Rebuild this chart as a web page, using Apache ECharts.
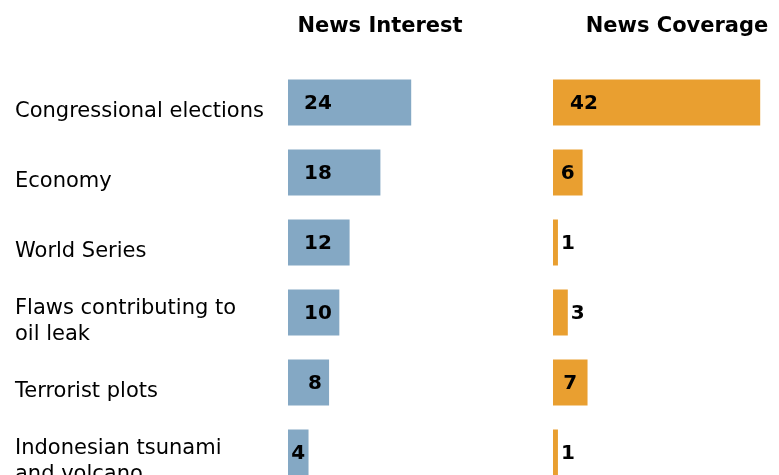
<!DOCTYPE html>
<html><head><meta charset="utf-8">
<script src="https://cdn.jsdelivr.net/npm/echarts@6/dist/echarts.min.js"></script>
<style>html,body{margin:0;padding:0;background:#fff}#c{width:779px;height:475px}</style>
</head><body><div id="c"></div>
<script>
const categories = ["Congressional elections", "Economy", "World Series", "Flaws contributing to\noil leak", "Terrorist plots", "Indonesian tsunami\nand volcano"];
const newsInterest = [24, 18, 12, 10, 8, 4];
const newsCoverage = [42, 6, 1, 3, 7, 1];
const panelTitles = ["News Interest", "News Coverage"];

const FONT = "DejaVu Sans";
const labelBase = {show: true, color: '#000', fontFamily: FONT, fontWeight: 'bold', fontSize: 20, offset: [0, 1]};

function leftLabel(v) {
  if (v >= 10) return Object.assign({}, labelBase, {position: 'insideLeft', distance: 16});
  if (v >= 5) return Object.assign({}, labelBase, {position: 'insideLeft', distance: 20});
  return Object.assign({}, labelBase, {position: 'inside'});
}
function rightLabel(v) {
  if (v >= 10) return Object.assign({}, labelBase, {position: 'insideLeft', distance: 17});
  if (v >= 5) return Object.assign({}, labelBase, {position: 'inside'});
  return Object.assign({}, labelBase, {position: 'right', distance: 3});
}

const gridBase = {top: 67.5, height: 420, containLabel: false, outerBoundsMode: 'none'};
const chart = echarts.init(document.getElementById('c'), null, {renderer: 'canvas'});
chart.setOption({
  animation: false,
  backgroundColor: '#fff',
  title: [
    {text: panelTitles[0], left: 375, top: 11, textAlign: 'center', textStyle: {fontFamily: FONT, fontWeight: 'bold', fontSize: 21, color: '#000'}},
    {text: panelTitles[1], left: 672, top: 11, textAlign: 'center', textStyle: {fontFamily: FONT, fontWeight: 'bold', fontSize: 21, color: '#000'}}
  ],
  grid: [
    Object.assign({}, gridBase, {left: 288, width: 154}),
    Object.assign({}, gridBase, {left: 553, width: 222}),
    Object.assign({}, gridBase, {left: 288, width: 154, top: 77})
  ],
  xAxis: [
    {gridIndex: 0, type: 'value', min: 0, max: 30, show: false},
    {gridIndex: 1, type: 'value', min: 0, max: 45, show: false},
    {gridIndex: 2, type: 'value', min: 0, max: 30, show: false}
  ],
  yAxis: [
    {gridIndex: 0, type: 'category', data: categories, inverse: true, show: false},
    {gridIndex: 1, type: 'category', data: categories, inverse: true, show: false},
    {gridIndex: 2, type: 'category', data: categories, inverse: true,
     axisLine: {show: false}, axisTick: {show: false}, splitLine: {show: false},
     axisLabel: {margin: 273, align: 'left', fontFamily: FONT, fontSize: 21, color: '#000', lineHeight: 26}}
  ],
  series: [
    {type: 'bar', xAxisIndex: 0, yAxisIndex: 0, barWidth: 46,
     itemStyle: {color: '#84A8C4'},
     data: newsInterest.map(v => ({value: v, label: leftLabel(v)}))},
    {type: 'bar', xAxisIndex: 1, yAxisIndex: 1, barWidth: 46,
     itemStyle: {color: '#E99F30'},
     data: newsCoverage.map(v => ({value: v, label: rightLabel(v)}))}
  ]
});
</script></body></html>
